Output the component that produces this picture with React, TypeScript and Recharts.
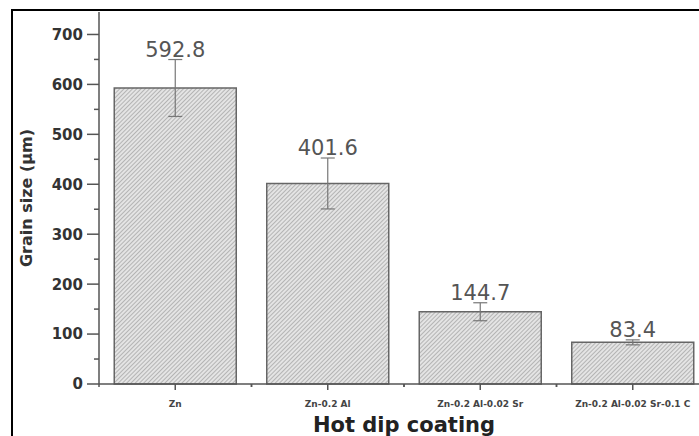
import React from "react";
import { BarChart, Bar, XAxis, YAxis, ErrorBar, LabelList } from "recharts";

const categories = ["Zn", "Zn-0.2 Al", "Zn-0.2 Al-0.02 Sr", "Zn-0.2 Al-0.02 Sr-0.1 C"];
const grainSize = [592.8, 401.6, 144.7, 83.4];
const grainError = [57, 51, 18, 5];
const yTicks = [0, 50, 100, 150, 200, 250, 300, 350, 400, 450, 500, 550, 600, 650, 700];

const data = categories.map((c, i) => ({ name: c, value: grainSize[i], err: grainError[i] }));

const AXIS = "#555";
const FONT = "'DejaVu Sans', sans-serif";

const YTick = (props: any) => {
  const { x, y, payload } = props;
  const axisX = x + 16;
  const major = payload.value % 100 === 0;
  return (
    <g>
      <line x1={axisX - (major ? 12 : 5)} x2={axisX} y1={y} y2={y} stroke={AXIS} strokeWidth={1.5} />
      {major && (
        <text x={x} y={y} dy="0.36em" textAnchor="end" fontFamily={FONT} fontWeight="bold" fontSize={15} fill="#333">
          {payload.value}
        </text>
      )}
    </g>
  );
};

const XTick = (props: any) => {
  const { x, y, payload } = props;
  const axisY = y - 16;
  const off = payload.offset ?? 76;
  return (
    <g>
      <line x1={x} x2={x} y1={axisY} y2={axisY + 6} stroke={AXIS} strokeWidth={1.5} />
      <line x1={x - off} x2={x - off} y1={axisY} y2={axisY + 3} stroke={AXIS} strokeWidth={1.5} />
      <line x1={x + off} x2={x + off} y1={axisY} y2={axisY + 3} stroke={AXIS} strokeWidth={1.5} />
      <text x={x} y={axisY + 23} textAnchor="middle" fontFamily={FONT} fontWeight="bold" fontSize={9} fill="#444">
        {payload.value}
      </text>
    </g>
  );
};

const ValueLabel = (props: any) => {
  const { x, y, width, height, value, index } = props;
  const pxPerUnit = height / value;
  const errPx = grainError[index] * pxPerUnit;
  return (
    <text x={x + width / 2} y={y - errPx - 3} textAnchor="middle" fontFamily={FONT} fontSize={21} fill="#555">
      {value}
    </text>
  );
};

const YLabel = (props: any) => {
  const { viewBox } = props;
  const cx = viewBox.x + 32;
  const cy = viewBox.y + viewBox.height / 2;
  return (
    <text x={cx} y={cy} transform={`rotate(-90, ${cx}, ${cy})`} textAnchor="middle" fontFamily={FONT} fontWeight="bold" fontSize={16} fill="#333">
      Grain size (μm)
    </text>
  );
};

const XLabel = (props: any) => {
  const { viewBox } = props;
  return (
    <text x={viewBox.x + viewBox.width / 2} y={viewBox.y + 48} textAnchor="middle" fontFamily={FONT} fontWeight="bold" fontSize={21} fill="#222">
      Hot dip coating
    </text>
  );
};

export default function App() {
  return (
    <div style={{ position: "absolute", left: 0, top: 0, width: 699, height: 436, overflow: "hidden", background: "#fff" }}>
      <div style={{ position: "absolute", left: 11, top: 9, right: -10, bottom: -10, borderLeft: "2px solid #000", borderTop: "2px solid #000" }} />
      <div style={{ position: "absolute", left: 0, top: 0 }}>
        <BarChart width={730} height={436} data={data} margin={{ top: 12, right: 21, left: 0, bottom: 0 }} barCategoryGap="10%">
          <defs>
            <pattern id="hatch" patternUnits="userSpaceOnUse" width={3} height={3} patternTransform="rotate(45)">
              <rect width={3} height={3} fill="#e4e4e4" />
              <line x1={0} y1={0} x2={0} y2={3} stroke="#9a9a9a" strokeWidth={1.3} />
            </pattern>
          </defs>
          <XAxis
            dataKey="name"
            height={52}
            axisLine={{ stroke: AXIS, strokeWidth: 1.5 }}
            tickLine={false}
            tickSize={6}
            tickMargin={10}
            tick={<XTick />}
            interval={0}
            label={<XLabel />}
          />
          <YAxis
            width={99}
            domain={[0, 745]}
            ticks={yTicks}
            interval={0}
            axisLine={{ stroke: AXIS, strokeWidth: 1.5 }}
            tickLine={false}
            tickSize={12}
            tickMargin={4}
            tick={<YTick />}
            label={<YLabel />}
          />
          <Bar dataKey="value" fill="url(#hatch)" stroke="#666" strokeWidth={1.5} isAnimationActive={false}>
            <ErrorBar dataKey="err" width={7} stroke="#777" strokeWidth={1.2} />
            <LabelList dataKey="value" content={<ValueLabel />} />
          </Bar>
        </BarChart>
      </div>
    </div>
  );
}
